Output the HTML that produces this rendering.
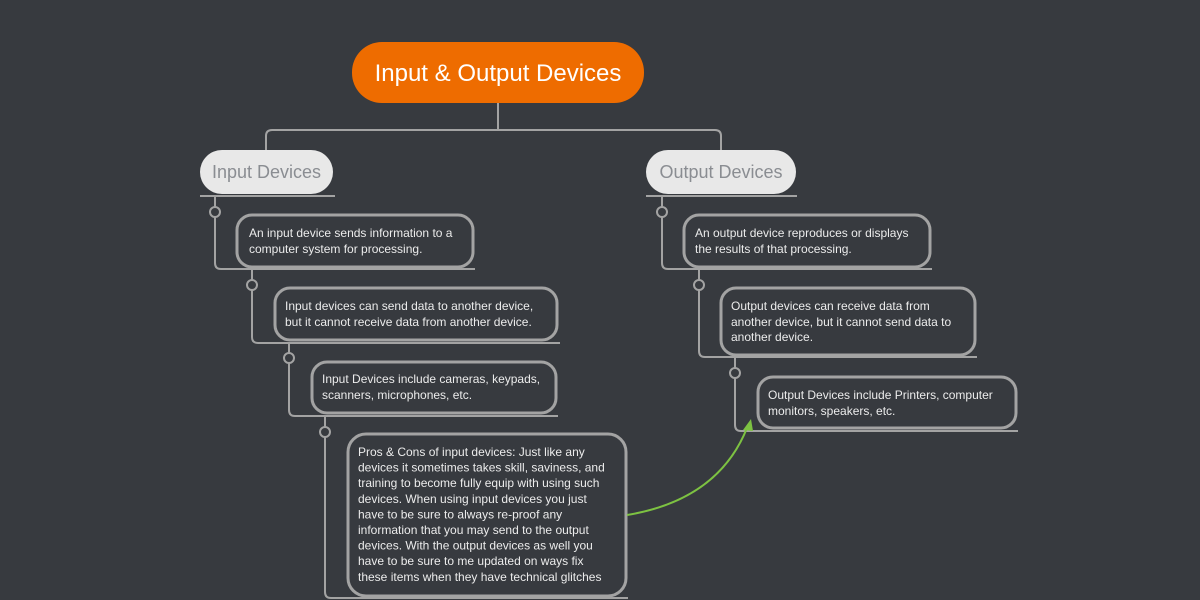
<!DOCTYPE html>
<html><head><meta charset="utf-8"><style>
html,body{margin:0;padding:0;background:#373a3f;width:1200px;height:600px;overflow:hidden}
svg{display:block}
text{font-family:"Liberation Sans",sans-serif}
.t{fill:#ececec;font-size:12px}
.ln{stroke:#a3a3a3;stroke-width:2;fill:none}
.bx{stroke:#a3a3a3;stroke-width:3;fill:#373a3f}
.c{stroke:#a3a3a3;stroke-width:2;fill:#373a3f}
</style></head><body>
<svg width="1200" height="600" viewBox="0 0 1200 600">
<rect width="1200" height="600" fill="#373a3f"/>
<!-- root connectors -->
<path class="ln" d="M498 103 V130 M266 150 V136 Q266 130 272 130 H715 Q721 130 721 136 V150"/>
<rect x="352" y="42" width="292" height="61" rx="30" fill="#ee6c00"/>
<text x="498" y="81" text-anchor="middle" fill="#fff" font-size="24">Input &amp; Output Devices</text>

<!-- Input side -->
<rect x="200" y="150" width="133" height="44" rx="22" fill="#e8e8e8"/>
<text x="266.5" y="178" text-anchor="middle" fill="#8a8d92" font-size="18">Input Devices</text>
<path class="ln" d="M200 196 H335"/>
<path class="ln" d="M215 196 V263 Q215 269 221 269 H475"/>
<path class="ln" d="M252 269 V337 Q252 343 258 343 H560"/>
<path class="ln" d="M289 343 V410 Q289 416 295 416 H558"/>
<path class="ln" d="M325 416 V592 Q325 598 331 598 H628"/>
<circle class="c" cx="215" cy="212" r="5"/>
<circle class="c" cx="252" cy="285" r="5"/>
<circle class="c" cx="289" cy="358" r="5"/>
<circle class="c" cx="325" cy="432" r="5"/>
<rect class="bx" x="237" y="215" width="236" height="52" rx="15"/>
<text class="t"><tspan x="249" y="237">An input device sends information to a</tspan><tspan x="249" y="253">computer system for processing.</tspan></text>
<rect class="bx" x="275" y="288" width="282" height="52" rx="15"/>
<text class="t"><tspan x="285" y="310">Input devices can send data to another device,</tspan><tspan x="285" y="326">but it cannot receive data from another device.</tspan></text>
<rect class="bx" x="312" y="362" width="244" height="51" rx="15"/>
<text class="t"><tspan x="322" y="383">Input Devices include cameras, keypads,</tspan><tspan x="322" y="399">scanners, microphones, etc.</tspan></text>
<rect class="bx" x="348" y="434" width="278" height="162" rx="18"/>
<text class="t"><tspan x="358" y="456">Pros &amp; Cons of input devices: Just like any</tspan><tspan x="358" y="471.6">devices it sometimes takes skill, saviness, and</tspan><tspan x="358" y="487.2">training to become fully equip with using such</tspan><tspan x="358" y="502.8">devices. When using input devices you just</tspan><tspan x="358" y="518.4">have to be sure to always re-proof any</tspan><tspan x="358" y="534">information that you may send to the output</tspan><tspan x="358" y="549.6">devices. With the output devices as well you</tspan><tspan x="358" y="565.2">have to be sure to me updated on ways fix</tspan><tspan x="358" y="580.8">these items when they have technical glitches</tspan></text>

<!-- Output side -->
<rect x="646" y="150" width="150" height="44" rx="22" fill="#e8e8e8"/>
<text x="721" y="178" text-anchor="middle" fill="#8a8d92" font-size="18">Output Devices</text>
<path class="ln" d="M646 196 H797"/>
<path class="ln" d="M662 196 V263 Q662 269 668 269 H932"/>
<path class="ln" d="M699 269 V351 Q699 357 705 357 H977"/>
<path class="ln" d="M735 357 V425 Q735 431 741 431 H1018"/>
<circle class="c" cx="662" cy="212" r="5"/>
<circle class="c" cx="699" cy="285" r="5"/>
<circle class="c" cx="735" cy="373" r="5"/>
<rect class="bx" x="684" y="215" width="246" height="52" rx="15"/>
<text class="t"><tspan x="695" y="237">An output device reproduces or displays</tspan><tspan x="695" y="253">the results of that processing.</tspan></text>
<rect class="bx" x="721" y="288" width="254" height="67" rx="15"/>
<text class="t"><tspan x="731" y="310">Output devices can receive data from</tspan><tspan x="731" y="326">another device, but it cannot send data to</tspan><tspan x="731" y="341">another device.</tspan></text>
<rect class="bx" x="758" y="377" width="258" height="51" rx="15"/>
<text class="t"><tspan x="768" y="399">Output Devices include Printers, computer</tspan><tspan x="768" y="415">monitors, speakers, etc.</tspan></text>

<!-- green arrow -->
<path d="M627 515 Q718 500 747 428" stroke="#7dc242" stroke-width="2" fill="none"/>
<polygon points="751,419 743,430 753,431" fill="#7dc242"/>
</svg>
</body></html>
